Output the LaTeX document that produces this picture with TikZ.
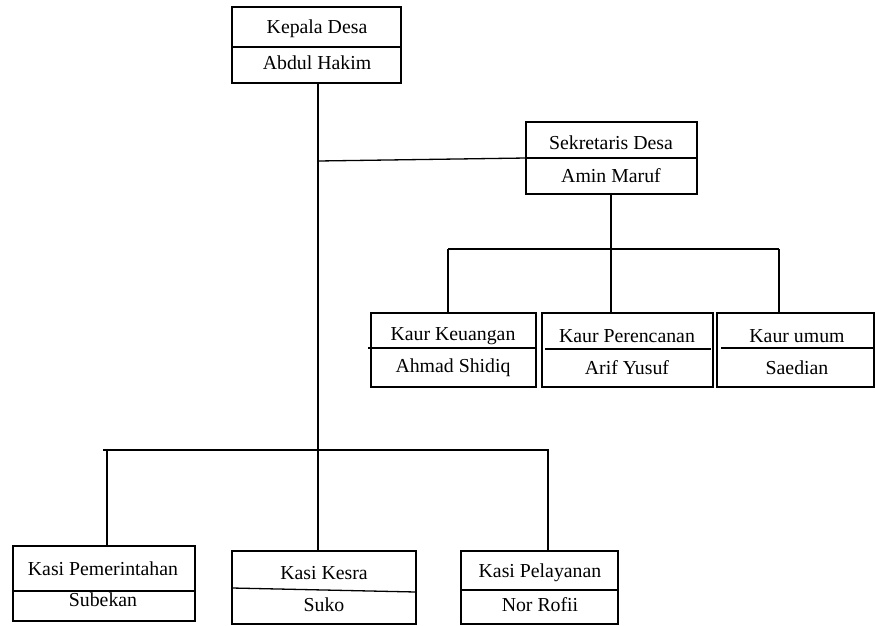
\documentclass[tikz,border=0pt]{standalone}
\usepackage{fontspec}
\setmainfont{Liberation Serif}
\begin{document}
\begin{tikzpicture}[x=1pt,y=-1pt,line width=1.3pt,
  box/.style={draw,line width=1.3pt,inner sep=0pt,outer sep=0pt},
  lbl/.style={font=\fontsize{19.8}{22}\selectfont,inner sep=0pt}]
\useasboundingbox (0,0) rectangle (876,625);
% boxes
\node[box,minimum width=169pt,minimum height=76pt] (kd) at (316.5,45) {};
\node[box,minimum width=171pt,minimum height=72pt] (sk) at (611.5,158) {};
\node[box,minimum width=165pt,minimum height=74pt] (kk) at (453.5,350) {};
\node[box,minimum width=171pt,minimum height=74pt] (kp) at (627.5,350) {};
\node[box,minimum width=157pt,minimum height=74pt] (ku) at (795.5,350) {};
\node[box,minimum width=182pt,minimum height=75pt] (kpm) at (104,583.5) {};
\node[box,minimum width=184pt,minimum height=73pt] (kks) at (324,587.5) {};
\node[box,minimum width=157pt,minimum height=73pt] (kpl) at (539.5,587.5) {};
% dividers
\draw (kd.west |- 0,47) -- (kd.east |- 0,47);
\draw (sk.west |- 0,158) -- (sk.east |- 0,158);
\draw (368,348) -- (kk.east |- 0,348);
\draw (545,349) -- (711,349);
\draw (721,348) -- (ku.east |- 0,348);
\draw (kpm.west |- 0,591) -- (kpm.east |- 0,591);
\draw (kks.west |- 0,588) -- (kks.east |- 0,592);
\draw (kpl.west |- 0,590) -- (kpl.east |- 0,590);
% labels
\node[lbl] (kdT) at (317,29) {Kepala Desa};
\node[lbl] (kdB) at (317,63) {Abdul Hakim};
\node[lbl] (skT) at (611,143) {Sekretaris Desa};
\node[lbl] (skB) at (611,176) {Amin Maruf};
\node[lbl] (kkT) at (453,336) {Kaur Keuangan};
\node[lbl] (kkB) at (453,368) {Ahmad Shidiq};
\node[lbl] (kpT) at (627,336) {Kaur Perencanan};
\node[lbl] (kpB) at (627,368) {Arif Yusuf};
\node[lbl] (kuT) at (797,336) {Kaur umum};
\node[lbl] (kuB) at (797,368) {Saedian};
\node[lbl] (kpmT) at (103,569) {Kasi Pemerintahan};
\node[lbl] (kpmB) at (103,600) {Subekan};
\node[lbl] (kksT) at (324,573) {Kasi Kesra};
\node[lbl] (kksB) at (324,605) {Suko};
\node[lbl] (kplT) at (540,573) {Kasi Pelayanan};
\node[lbl] (kplB) at (540,605) {Nor Rofii};
% junction coordinates
\coordinate (m1) at (318,83);
\coordinate (m2) at (318,161);
\coordinate (s1) at (611,194);
\coordinate (bL) at (448,249);
\coordinate (bR) at (779,249);
\coordinate (cL) at (103,450);
\coordinate (cR) at (549,450);
\coordinate (dL) at (107,450);
\coordinate (dR) at (548,450);
% connectors
\draw (m1) -- (m1 |- kks.north);
\draw (m2) -- (sk.west);
\draw (s1) -- (s1 |- kp.north);
\draw (bL) -- (bR);
\draw (bL) -- (bL |- kk.north);
\draw (bR) -- (bR |- ku.north);
\draw (cL) -- (cR);
\draw (dL) -- (dL |- kpm.north);
\draw (dR) -- (dR |- kpl.north);
\end{tikzpicture}
\end{document}
